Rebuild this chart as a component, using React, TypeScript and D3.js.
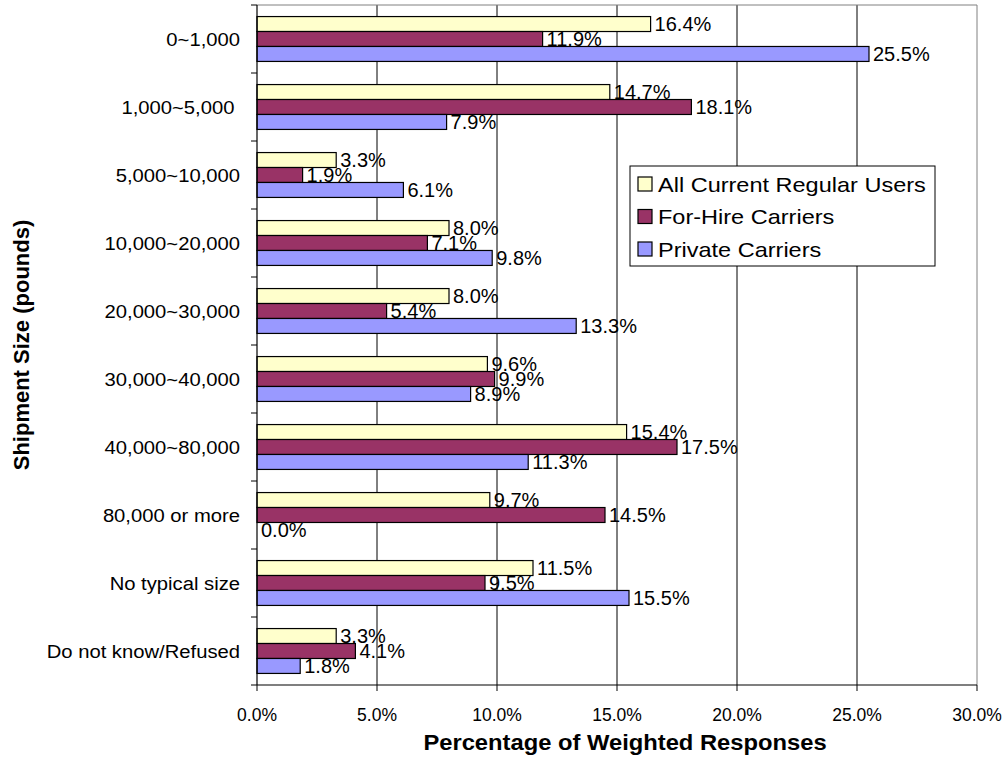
import { scaleBand, scaleLinear } from "d3";
import type { ReactNode } from "react";

const categories = [
  "0~1,000",
  "1,000~5,000 ",
  "5,000~10,000",
  "10,000~20,000",
  "20,000~30,000",
  "30,000~40,000",
  "40,000~80,000",
  "80,000 or more",
  "No typical size",
  "Do not know/Refused",
];

const seriesNames = ["All Current Regular Users", "For-Hire Carriers", "Private Carriers"];
const seriesColors = ["#FFFFCC", "#993366", "#9999FF"];

const allUsers = [16.4, 14.7, 3.3, 8.0, 8.0, 9.6, 15.4, 9.7, 11.5, 3.3];
const forHire = [11.9, 18.1, 1.9, 7.1, 5.4, 9.9, 17.5, 14.5, 9.5, 4.1];
const privateCarriers = [25.5, 7.9, 6.1, 9.8, 13.3, 8.9, 11.3, 0.0, 15.5, 1.8];

const xTicks = [0, 5, 10, 15, 20, 25, 30];

const WIDTH = 1005;
const HEIGHT = 757;
const PLOT = { left: 257, right: 977, top: 5, bottom: 685 };
const FONT = "'Liberation Sans', Arial, sans-serif";

// text with a slight horizontal stretch (the reference's glyphs run a bit wide)
function T({
  x,
  y,
  sx = 1,
  size,
  anchor = "start",
  bold = false,
  children,
}: {
  x: number;
  y: number;
  sx?: number;
  size: number;
  anchor?: "start" | "middle" | "end";
  bold?: boolean;
  children: ReactNode;
}) {
  return (
    <text
      transform={`translate(${x},${y}) scale(${sx},1)`}
      dy="0.36em"
      textAnchor={anchor}
      fontSize={size}
      fontWeight={bold ? "bold" : "normal"}
      fill="#000"
      style={{ whiteSpace: "pre" }}
    >
      {children}
    </text>
  );
}

export default function App() {
  const series = [allUsers, forHire, privateCarriers];

  const x = scaleLinear().domain([0, 30]).range([PLOT.left, PLOT.right]);
  const y = scaleBand<string>().domain(categories).range([PLOT.top, PLOT.bottom]).padding(0);
  const step = y.step();
  const inner = scaleBand<number>()
    .domain([0, 1, 2])
    .range([step * 0.17, step * 0.83])
    .padding(0);

  const boundaries = categories.map((c) => y(c) ?? 0).concat([PLOT.bottom]);

  return (
    <svg width={WIDTH} height={HEIGHT} style={{ position: "absolute", left: 0, top: 0, background: "white" }} fontFamily={FONT}>
      {/* gridlines */}
      {xTicks.slice(1, -1).map((t) => (
        <line key={t} x1={x(t)} x2={x(t)} y1={PLOT.top} y2={PLOT.bottom} stroke="#000" strokeWidth={1} />
      ))}
      {/* plot frame top/right */}
      <line x1={PLOT.left} x2={PLOT.right} y1={PLOT.top} y2={PLOT.top} stroke="#808080" strokeWidth={1} />
      <line x1={PLOT.right} x2={PLOT.right} y1={PLOT.top} y2={PLOT.bottom} stroke="#808080" strokeWidth={1} />

      {/* bars + value labels */}
      {categories.map((c, ci) => (
        <g key={c}>
          {series.map((vals, si) => {
            const top = (y(c) ?? 0) + (inner(si) ?? 0);
            const h = inner.bandwidth();
            const w = x(vals[ci]) - x(0);
            return (
              <g key={si}>
                <rect x={x(0)} y={top} width={w} height={h} fill={seriesColors[si]} stroke="#000" strokeWidth={1.2} />
                <T x={x(vals[ci]) + 4} y={top + h / 2} size={20}>
                  {vals[ci].toFixed(1)}%
                </T>
              </g>
            );
          })}
        </g>
      ))}

      {/* y axis */}
      <line x1={PLOT.left} x2={PLOT.left} y1={PLOT.top} y2={PLOT.bottom} stroke="#000" strokeWidth={1.2} />
      {boundaries.map((b, i) => (
        <line key={i} x1={PLOT.left - 6} x2={PLOT.left} y1={b} y2={b} stroke="#000" strokeWidth={1} />
      ))}
      {categories.map((c) => (
        <T key={c} x={240} y={(y(c) ?? 0) + step / 2} size={19} sx={1.065} anchor="end">
          {c}
        </T>
      ))}

      {/* x axis */}
      <line x1={PLOT.left} x2={PLOT.right} y1={PLOT.bottom} y2={PLOT.bottom} stroke="#000" strokeWidth={1.2} />
      {xTicks.map((t) => (
        <g key={t}>
          <line x1={x(t)} x2={x(t)} y1={PLOT.bottom} y2={PLOT.bottom + 6} stroke="#000" strokeWidth={1} />
          <T x={x(t)} y={PLOT.bottom + 30} size={17.5} anchor="middle">
            {t.toFixed(1)}%
          </T>
        </g>
      ))}

      {/* axis titles */}
      <T x={(PLOT.left + PLOT.right) / 2 + 8} y={742} size={22} sx={1.08} anchor="middle" bold>
        Percentage of Weighted Responses
      </T>
      <g transform={`translate(21, ${(PLOT.top + PLOT.bottom) / 2}) rotate(-90)`}>
        <T x={0} y={0} size={22} anchor="middle" bold>
          Shipment Size (pounds)
        </T>
      </g>

      {/* legend */}
      <g transform="translate(630,166)">
        <rect x={0} y={0} width={305} height={100} fill="#fff" stroke="#000" strokeWidth={1} />
        {seriesNames.map((n, i) => (
          <g key={n} transform={`translate(0, ${18 + i * 32.5})`}>
            <rect x={8} y={-7} width={14} height={14} fill={seriesColors[i]} stroke="#000" strokeWidth={1.2} />
            <T x={28} y={0} size={21} sx={1.12}>
              {n}
            </T>
          </g>
        ))}
      </g>
    </svg>
  );
}
